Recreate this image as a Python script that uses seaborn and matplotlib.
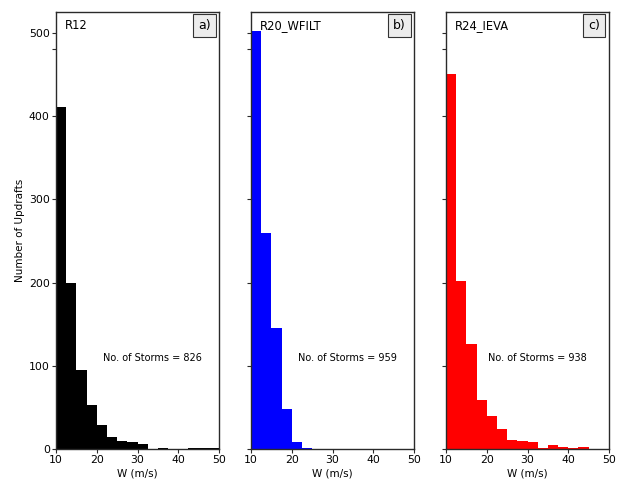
import numpy as np
import pandas as pd
import matplotlib
matplotlib.use("Agg")
import matplotlib.pyplot as plt
import seaborn as sns

sns.set_theme(style="white")
plt.rcParams['font.family'] = ['DejaVu Sans']
plt.rcParams.update({"text.color": "black", "axes.labelcolor": "black",
                     "xtick.color": "black", "ytick.color": "black"})

# Vertical velocity bins (m/s), 2.5 m/s wide
bin_edges = [10.0, 12.5, 15.0, 17.5, 20.0, 22.5, 25.0, 27.5, 30.0,
             32.5, 35.0, 37.5, 40.0, 42.5, 45.0, 47.5, 50.0]

counts_r12 = [411, 200, 95, 53, 29, 14, 10, 8, 6, 0, 1, 0, 0, 1, 1, 1]
counts_r20 = [502, 260, 145, 48, 8, 1, 0, 0, 0, 0, 0, 0, 0, 0, 0, 0]
counts_r24 = [450, 202, 126, 59, 40, 24, 11, 10, 8, 1, 5, 3, 1, 2, 0, 0]

run_names = ["R12", "R20_WFILT", "R24_IEVA"]
panel_tags = ["a)", "b)", "c)"]
storm_counts = [826, 959, 938]
bar_colors = ["black", "blue", "red"]
x_ticks = [10, 20, 30, 40, 50]
y_ticks = [0, 100, 200, 300, 400, 500]

all_counts = [counts_r12, counts_r20, counts_r24]
label_x = [21.5, 21.5, 20.3]

fig = plt.figure(figsize=(6.21, 4.80), dpi=100)
lefts = [56 / 621, 251 / 621, 446 / 621]
width = 163 / 621
bottom = 1 - 449 / 480
height = (449 - 12) / 480

edge_col = "#2a2a2a"
for i in range(3):
    ax = fig.add_axes([lefts[i], bottom, width, height])
    df = pd.DataFrame({"W": np.array(bin_edges[:-1]) + 1.25,
                       "n": all_counts[i]})
    sns.histplot(data=df, x="W", weights="n", bins=bin_edges, ax=ax,
                 color=bar_colors[i], alpha=1.0, linewidth=0, edgecolor=bar_colors[i])
    ax.set_xlim(10, 50)
    ax.set_ylim(0, 525)
    ax.set_xticks(x_ticks)
    ax.set_yticks(y_ticks)
    ax.set_yticks([480], minor=True)
    ax.tick_params(axis="both", which="both", direction="out", length=3,
                   width=0.8, color=edge_col, labelsize=7.8, pad=1.5)
    ax.tick_params(axis="both", which="major", bottom=True, left=True)
    ax.tick_params(axis="y", which="minor", left=True)
    ax.set_xlabel("W (m/s)", fontsize=7.5, labelpad=2)
    if i == 0:
        ax.set_ylabel("Number of Updrafts", fontsize=7.5, labelpad=3)
    else:
        ax.set_ylabel("")
        ax.set_yticklabels([])
    for s in ax.spines.values():
        s.set_color(edge_col)
        s.set_linewidth(1.0)
    ax.text(0.055, 0.985, run_names[i], transform=ax.transAxes,
            ha="left", va="top", fontsize=8.3)
    ax.text(0.91, 0.969, panel_tags[i], transform=ax.transAxes,
            ha="center", va="center", fontsize=9,
            bbox=dict(boxstyle="square,pad=0.4", facecolor="#ececec",
                      edgecolor="#333333", linewidth=0.8))
    ax.text(label_x[i], 109, f"No. of Storms = {storm_counts[i]}",
            ha="left", va="center", fontsize=7)

fig.savefig("out.png", dpi=100)
